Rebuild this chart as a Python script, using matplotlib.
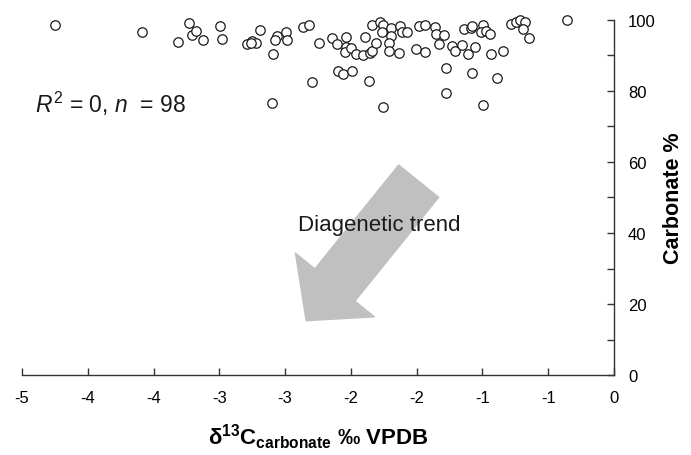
import numpy as np
import matplotlib
matplotlib.use("Agg")
import matplotlib.pyplot as plt
from matplotlib.ticker import FixedLocator, FormatStrFormatter, MultipleLocator

plt.rcParams["font.family"] = ["Liberation Sans", "DejaVu Sans"]
plt.rcParams["mathtext.fontset"] = "custom"
plt.rcParams["mathtext.rm"] = "Liberation Sans"
plt.rcParams["mathtext.it"] = "Liberation Sans:italic"
plt.rcParams["mathtext.bf"] = "Liberation Sans:bold"

# d13C carbonate (per mil VPDB) and carbonate content (%)
d13c = [
    -4.72, -3.99, -3.68, -3.59, -3.56, -3.53, -3.47, -3.33, -3.31, -3.10,
    -3.06, -3.02, -2.99, -2.88, -2.89, -2.85, -2.86, -2.77, -2.76, -2.63,
    -2.58, -2.49, -2.55, -2.38, -2.34, -2.33, -2.29, -2.26, -2.26, -2.27,
    -2.22, -2.18, -2.12, -2.10, -2.06, -2.04, -2.01, -2.21, -2.07, -2.04,
    -1.98, -1.95, -1.96, -1.88, -1.88, -1.90, -1.90, -1.82, -1.81, -1.79,
    -1.75, -1.95, -1.65, -1.60, -1.67, -1.60, -1.51, -1.50, -1.44, -1.48,
    -1.37, -1.34, -1.28, -1.23, -1.17, -1.42, -1.42, -1.27, -1.21, -1.20,
    -1.11, -1.12, -1.08, -1.05, -1.20, -1.11, -1.04, -0.94, -0.99, -0.87,
    -0.83, -0.79, -0.75, -0.77, -0.72, -0.40, -3.07,
]
carbonate = [
    98.6, 96.7, 93.8, 99.1, 95.9, 96.9, 94.3, 98.2, 94.7, 93.2,
    94.0, 93.4, 97.1, 90.3, 76.5, 95.5, 94.3, 96.5, 94.5, 97.9,
    98.5, 93.6, 82.4, 94.9, 93.2, 85.6, 84.8, 95.1, 92.4, 90.9,
    92.0, 90.4, 90.1, 95.1, 90.8, 91.4, 93.4, 85.7, 82.9, 98.6,
    99.5, 98.5, 96.7, 97.7, 95.6, 93.6, 91.3, 90.6, 98.4, 96.5,
    96.7, 75.4, 98.2, 98.6, 91.8, 91.0, 98.0, 96.1, 95.7, 93.2,
    92.8, 91.4, 92.9, 90.4, 92.3, 86.4, 79.4, 97.5, 97.8, 98.2,
    98.7, 96.7, 96.8, 96.1, 85.1, 76.1, 90.3, 91.2, 83.6, 99.0,
    99.4, 99.9, 99.4, 97.5, 94.9, 100.0, 93.4,
]

x_ticks = np.linspace(-5, 0, 10)
y_major = [0, 20, 40, 60, 80, 100]

axis_color = "#333333"

fig = plt.figure(figsize=(6.91, 4.56), dpi=100)
ax = fig.add_axes([0.0318, 0.1754, 0.8568, 0.7786])

# diagenetic trend arrow
ax.annotate(
    "",
    xy=(-2.60, 15.3),
    xytext=(-1.65, 54.6),
    arrowprops=dict(
        arrowstyle="simple,head_length=33,head_width=73,tail_width=37",
        mutation_scale=1,
        color="#c0c0c0",
        shrinkA=0,
        shrinkB=0,
    ),
    zorder=1,
)
ax.text(-1.98, 42.4, "Diagenetic trend", fontsize=16, ha="center",
        va="center", color="#1a1a1a", zorder=3)

ax.plot(
    d13c,
    carbonate,
    linestyle="none",
    marker="o",
    markersize=6.8,
    markerfacecolor="white",
    markeredgecolor="#1a1a1a",
    markeredgewidth=0.9,
    clip_on=False,
    zorder=4,
)

ax.text(-4.89, 74.1, r"$R^2$ = 0, $n$  = 98", fontsize=16.5, ha="left",
        va="baseline", color="#1a1a1a")

ax.set_xlim(-5, 0)
ax.set_ylim(0, 100)

for side in ["top", "left"]:
    ax.spines[side].set_visible(False)
for side in ["bottom", "right"]:
    ax.spines[side].set_color(axis_color)
    ax.spines[side].set_linewidth(1.0)

ax.xaxis.set_major_locator(FixedLocator(x_ticks))
ax.xaxis.set_major_formatter(FormatStrFormatter("%.0f"))
ax.yaxis.set_major_locator(FixedLocator(y_major))
ax.yaxis.set_minor_locator(MultipleLocator(10))
ax.yaxis.tick_right()
ax.yaxis.set_label_position("right")

ax.tick_params(axis="x", direction="in", length=5, width=1.0,
               color=axis_color, labelsize=12, pad=11)
ax.tick_params(axis="y", which="both", direction="in", length=5, width=1.0,
               color=axis_color, labelsize=12, pad=10, left=False, right=True)

ax.set_xlabel(r"$\mathbf{\delta^{13}C_{carbonate}}$ ‰ VPDB",
              fontsize=16, fontweight="bold", labelpad=12)
ax.set_ylabel("Carbonate %", fontsize=15.5, fontweight="bold", labelpad=5)

fig.savefig("out.png", dpi=100)
